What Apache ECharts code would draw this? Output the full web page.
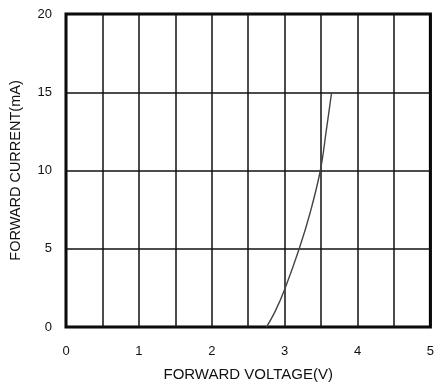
<!DOCTYPE html>
<html>
<head>
<meta charset="utf-8">
<script src="https://cdn.jsdelivr.net/npm/echarts@6/dist/echarts.min.js"></script>
<style>html,body{margin:0;padding:0;background:#fff;}#c{width:437px;height:391px;}</style>
</head>
<body>
<div id="c"></div>
<script>
var voltage = [2.75, 2.87, 3.0, 3.2, 3.35, 3.49, 3.57, 3.645];
var current = [0, 1.0, 2.4, 5.0, 7.3, 10.0, 12.5, 15.0];
var xTicks = [0, 1, 2, 3, 4, 5];
var yTicks = [0, 5, 10, 15, 20];

var pts = voltage.map(function (v, i) { return [v, current[i]]; });
var chart = echarts.init(document.getElementById('c'), null, {renderer: 'canvas'});
var font = 'Liberation Sans, Arial, sans-serif';
chart.setOption({
  animation: false,
  grid: {left: 63, right: 5, top: 14, bottom: 64, show: true, borderColor: '#000', borderWidth: 3, backgroundColor: 'transparent'},
  xAxis: {
    type: 'value', min: 0, max: 5, interval: 0.5,
    name: 'FORWARD VOLTAGE(V)', nameLocation: 'middle', nameGap: 40,
    nameTextStyle: {fontFamily: font, fontSize: 15, color: '#111'},
    axisLine: {show: false}, axisTick: {show: false},
    axisLabel: {fontFamily: font, fontSize: 13, color: '#111', margin: 18,
      formatter: function (v) { return xTicks.indexOf(v) >= 0 ? String(v) : ''; }},
    splitLine: {show: true, lineStyle: {color: '#111', width: 1.5}}
  },
  yAxis: {
    type: 'value', min: 0, max: 20, interval: 5,
    name: 'FORWARD CURRENT(mA)', nameLocation: 'middle', nameGap: 43,
    nameTextStyle: {fontFamily: font, fontSize: 14.5, color: '#111'},
    axisLine: {show: false}, axisTick: {show: false},
    axisLabel: {fontFamily: font, fontSize: 13, color: '#111', margin: 14,
      formatter: function (v) { return yTicks.indexOf(v) >= 0 ? String(v) : ''; }},
    splitLine: {show: true, lineStyle: {color: '#111', width: 1.5}}
  },
  series: [{
    type: 'line', data: pts, smooth: 0.4, symbol: 'none',
    lineStyle: {color: '#444', width: 1.4}
  }]
});
</script>
</body>
</html>
